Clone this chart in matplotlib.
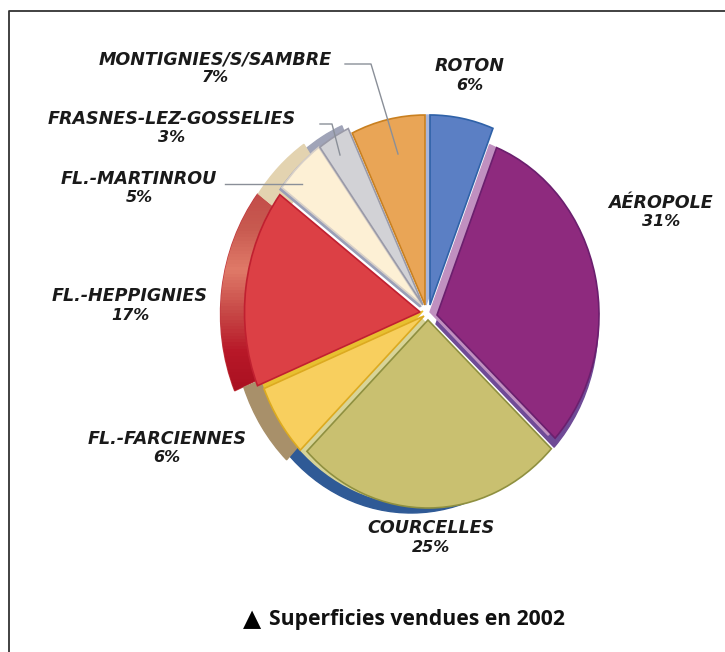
import matplotlib
matplotlib.use("Agg")
import matplotlib.pyplot as plt
import numpy as np
from matplotlib.colors import LinearSegmentedColormap

labels = ["ROTON", "AÉROPOLE", "COURCELLES", "FL.-FARCIENNES", "FL.-HEPPIGNIES",
          "FL.-MARTINROU", "FRASNES-LEZ-GOSSELIES", "MONTIGNIES/S/SAMBRE"]
values = [6, 31, 25, 6, 17, 5, 3, 7]
top_colors = ["#5b7fc4", "#8e2a7e", "#c9c070", "#f8cf5e", "#dc4045", "#fdf0d5", "#d2d2d6", "#e9a556"]
edge_colors = ["#2f62a8", "#6b1f6e", "#8f9040", "#dcaa20", "#c02030", "#d8d0c8", "#9a9aa8", "#c98020"]
side_colors = ["#a9b6dc", "#c090c0", "#2f5a96", "#a8906a", "#c23a40", "#e3d3b0", "#a0a4b8", "#e9a556"]

W, H = 725, 652
SX = 0.9
fig = plt.figure(figsize=(7.25, 6.52), dpi=100)
ax = fig.add_axes([0, 0, 1, 1])

def P(px, py):
    return (px / SX, H - py)

apex = [(430, 305), (437, 315), (428, 320), (424, 316), (420, 312), (422, 305), (423, 305), (425, 305)]
radius = [190, 180, 188, 192, 195, 195, 195, 190]
# hand-drawn perspective nudges of slice boundaries (deg): (lower edge, upper edge)
nudge = [(0, 0), (0, 0), (-2.5, 0), (-3, -2.5), (-1, -3), (0, -1), (0, 0), (0, 0)]

def layer(colors, ecs, shift, z, lw=1.0, only=None, ring=None, ext=0):
    wedges, _ = ax.pie(values, colors=colors, startangle=90, counterclock=False,
                       wedgeprops=dict(linewidth=lw))
    kept = {}
    for i, w in enumerate(wedges):
        if only is not None and i not in only:
            w.remove()
            continue
        w.set_center(P(apex[i][0] + shift[0], apex[i][1] + shift[1]))
        w.set_radius(radius[i])
        w.set_theta1(w.theta1 + nudge[i][0] - ext)
        w.set_theta2(w.theta2 + nudge[i][1] + ext)
        if ring:
            w.set_width(ring)
        w.set_edgecolor(ecs[i])
        w.set_zorder(z)
        kept[i] = w
    return kept

# outer depth, seen on the left
layer(side_colors, side_colors, (-17, 5), 1, only=[2], ring=40, ext=2)
layer(side_colors, side_colors, (-18, 5), 1.1, only=[3], ring=40, ext=2)
layer(side_colors, side_colors, (-20, 1), 1.2, only=[5], ring=35, ext=2)
layer(side_colors, side_colors, (-12, 0), 1, only=[6], ring=25, ext=2)
red_side = layer(side_colors, side_colors, (-24, 2), 1, only=[4], ring=40, ext=1)[4]
# shaded red depth
cmap = LinearSegmentedColormap.from_list("redside", ["#c24a48", "#c85a50", "#e07a68", "#c84a48", "#b81828", "#a81020"])
grad = np.linspace(0, 1, 64).reshape(-1, 1)
im = ax.imshow(grad, cmap=cmap, extent=(P(190, 0)[0], P(300, 0)[0], P(0, 395)[1], P(0, 185)[1]),
               origin="upper", aspect="auto", zorder=1.5)
im.set_clip_path(red_side)

# inner faces
layer(["#6f4a96"] * 8, ["#6f4a96"] * 8, (-1, 9), 2, only=[1])
layer(["#c090c0"] * 8, ["#c090c0"] * 8, (-7, -3), 2, only=[1])
layer(["#d8d498"] * 8, ["#d8d498"] * 8, (-8, -3), 2, only=[2])
layer(["#e8c030"] * 8, ["#e8c030"] * 8, (-1, -5), 2, only=[3])
layer(["#a9b6dc"] * 8, ["#a9b6dc"] * 8, (-4, 0), 2, only=[0])
layer(["#9aa0b8"] * 8, ["#9aa0b8"] * 8, (-2, 2), 2, only=[5, 6])
# top faces
layer(top_colors, edge_colors, (0, 0), 3, lw=1.2)

ax.set_aspect("auto")
ax.set_xlim(0, W / SX)
ax.set_ylim(0, H)
ax.axis("off")

# frame
xs, ys = zip(P(9, 652), P(9, 11), P(725, 11))
ax.plot(xs, ys, color="#333333", lw=1.3, zorder=5, clip_on=False)

# leaders
for pts in ([(345, 64), (371, 64), (398, 154)],
            [(320, 124), (332, 124), (340, 155)],
            [(225, 184), (302, 184)]):
    q = [P(*p) for p in pts]
    ax.plot([a for a, _ in q], [b for _, b in q], color="#8a8f98", lw=1.0, zorder=6)

label_pos = [(470, 66), (661, 203), (431, 528), (167, 439), (130, 296), (139, 179), (172, 119), (215, 59)]
for name, val, (px, py) in zip(labels, values, label_pos):
    x, y = P(px, py)
    ax.text(x, y, name, ha="center", va="center", fontsize=12.6, family="DejaVu Sans",
            style="oblique", weight="bold", color="#1a1a1a", zorder=7)
    x2, y2 = P(px, py + 19)
    ax.text(x2, y2, f"{val}%", ha="center", va="center", fontsize=11.5, family="DejaVu Sans",
            style="oblique", weight="bold", color="#1a1a1a", zorder=7)

# caption
x, y = P(252, 619)
ax.text(x, y, "▲", ha="center", va="center", fontsize=17, family="DejaVu Sans", color="black")
x, y = P(269, 619)
ax.text(x, y, "Superficies vendues en 2002", ha="left", va="center", fontsize=15.2,
        family="Open Sans", weight="bold", color="#111111")

fig.savefig("out.png", dpi=100)
